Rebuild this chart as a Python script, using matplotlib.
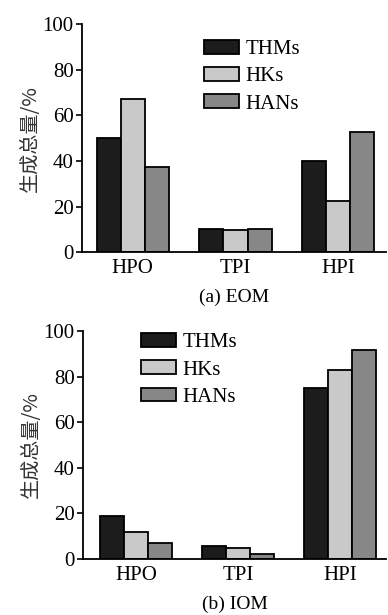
import numpy as np
import matplotlib.pyplot as plt

# data
groups = ["HPO", "TPI", "HPI"]
series = ["THMs", "HKs", "HANs"]
eom_thms = [50, 10, 40]
eom_hks = [67, 9.5, 22.5]
eom_hans = [37.5, 10.2, 52.5]
iom_thms = [19, 5.5, 75]
iom_hks = [12, 4.8, 83]
iom_hans = [7, 2, 91.5]

colors = ["#1c1c1c", "#c9c9c9", "#878787"]
YLABEL = "生成总量/%"

plt.rcParams["font.family"] = ["Liberation Serif", "Noto Sans CJK SC"]
plt.rcParams["font.size"] = 15

fig = plt.figure(figsize=(3.88, 6.15), dpi=100)


def draw_panel(ax, values, caption, legend_anchor, xlim):
    x = np.arange(len(groups))
    w = 0.235
    for i, (vals, name) in enumerate(zip(values, series)):
        ax.bar(x + (i - 1) * w, vals, width=w, color=colors[i],
               edgecolor="black", linewidth=1.3, label=name)
    ax.set_xlim(*xlim)
    ax.set_ylim(0, 100)
    ax.set_yticks([0, 20, 40, 60, 80, 100])
    ax.set_xticks(x)
    ax.set_xticklabels(groups)
    ax.tick_params(axis="x", length=0, pad=5)
    ax.tick_params(axis="y", direction="out", length=4, width=1.2, pad=2)
    for s in ["top", "right"]:
        ax.spines[s].set_visible(False)
    for s in ["left", "bottom"]:
        ax.spines[s].set_linewidth(1.3)
    ax.set_ylabel(YLABEL, family=["Noto Sans CJK SC"], fontsize=14.5,
                  labelpad=1, color="#333333")
    ax.legend(loc="upper left", bbox_to_anchor=legend_anchor, frameon=False,
              handlelength=1.7, handleheight=0.65, handletextpad=0.3,
              labelspacing=0.38, borderaxespad=0, borderpad=0)
    ax.text(0.5, -0.20, caption, transform=ax.transAxes, ha="center",
            va="center", fontsize=14)


ax1 = fig.add_axes([0.211, 0.590, 0.784, 0.371])
draw_panel(ax1, [eom_thms, eom_hks, eom_hans], "(a) EOM",
           (0.40, 0.93), (-0.495, 2.466))

ax2 = fig.add_axes([0.214, 0.091, 0.781, 0.371])
draw_panel(ax2, [iom_thms, iom_hks, iom_hans], "(b) IOM",
           (0.19, 0.99), (-0.517, 2.45))

fig.savefig("out.png", dpi=100)
